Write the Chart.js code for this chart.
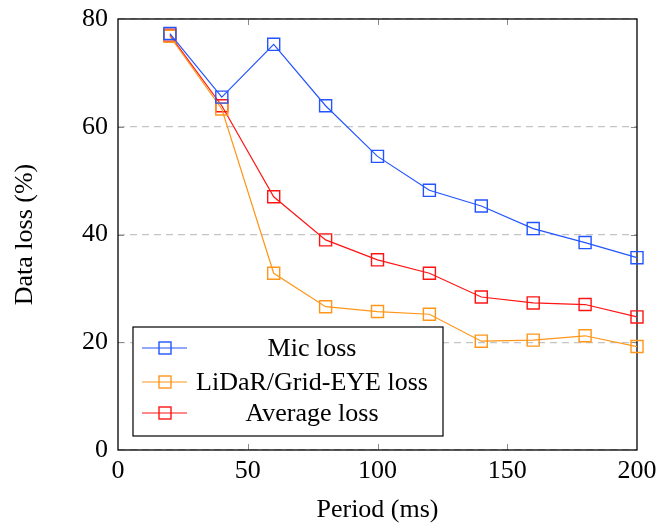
<!DOCTYPE html>
<html>
<head>
<meta charset="utf-8">
<script src="https://cdn.jsdelivr.net/npm/chart.js@4/dist/chart.umd.min.js"></script>
<style>
  html, body { margin: 0; padding: 0; background: #fff; }
  #wrap { width: 656px; height: 523px; }
</style>
</head>
<body>
<div id="wrap"><canvas id="c" width="656" height="523"></canvas></div>
<script>
const periods = [20, 40, 60, 80, 100, 120, 140, 160, 180, 200];
const micLoss = [77.3, 65.5, 75.3, 63.9, 54.5, 48.2, 45.3, 41.1, 38.5, 35.7];
const lidarLoss = [76.8, 63.3, 32.8, 26.6, 25.7, 25.2, 20.2, 20.4, 21.2, 19.2];
const avgLoss = [77.0, 63.9, 47.0, 39.0, 35.3, 32.8, 28.4, 27.3, 27.0, 24.7];
const seriesLabels = ['Mic loss', 'LiDaR/Grid-EYE loss', 'Average loss'];
const xTicks = [0, 50, 100, 150, 200];
const yTicks = [0, 20, 40, 60, 80];

const FONT = '"Liberation Serif", "Times New Roman", serif';
const colors = ['rgb(35,85,255)', 'rgb(255,150,25)', 'rgb(255,20,20)'];

function pts(vals) { return periods.map((p, i) => ({ x: p, y: vals[i] })); }
function ds(label, vals, color) {
  return {
    label, data: pts(vals), borderColor: color, backgroundColor: 'rgba(0,0,0,0)',
    borderWidth: 1.2, pointStyle: 'rect', pointRadius: 8.5, pointHoverRadius: 8.5,
    pointBorderWidth: 1.4, pointBackgroundColor: 'rgba(0,0,0,0)', pointBorderColor: color,
    tension: 0, clip: false
  };
}
function zeroPad(s) { s.paddingTop = 0; s.paddingBottom = 0; s.paddingLeft = 0; s.paddingRight = 0; }

const framePlugin = {
  id: 'frame',
  beforeDatasetsDraw(chart) {
    const { ctx, chartArea: a, scales: { x, y } } = chart;
    ctx.save();
    ctx.strokeStyle = '#8a8a8a';
    ctx.lineWidth = 1;
    const tl = 6;
    xTicks.forEach(v => {
      if (v === xTicks[0] || v === xTicks[xTicks.length - 1]) return;
      const px = Math.round(x.getPixelForValue(v)) + 0.5;
      ctx.beginPath();
      ctx.moveTo(px, a.bottom); ctx.lineTo(px, a.bottom - tl);
      ctx.moveTo(px, a.top); ctx.lineTo(px, a.top + tl);
      ctx.stroke();
    });
    yTicks.forEach(v => {
      if (v === yTicks[0] || v === yTicks[yTicks.length - 1]) return;
      const py = Math.round(y.getPixelForValue(v)) + 0.5;
      ctx.beginPath();
      ctx.moveTo(a.left, py); ctx.lineTo(a.left + tl, py);
      ctx.moveTo(a.right, py); ctx.lineTo(a.right - tl, py);
      ctx.stroke();
    });
    ctx.strokeStyle = '#000';
    ctx.lineWidth = 1.3;
    ctx.strokeRect(a.left, a.top, a.right - a.left, a.bottom - a.top);
    ctx.restore();
  }
};

const legendPlugin = {
  id: 'boxLegend',
  afterDatasetsDraw(chart) {
    const { ctx, chartArea: a } = chart;
    const bx = a.left + 15, by = a.bottom - 123, bw = 310, bh = 109;
    ctx.save();
    ctx.fillStyle = '#fff';
    ctx.fillRect(bx, by, bw, bh);
    ctx.strokeStyle = '#000';
    ctx.lineWidth = 1.2;
    ctx.strokeRect(bx, by, bw, bh);
    const rows = [21, 55, 86];
    ctx.font = '26px ' + FONT;
    ctx.textAlign = 'center';
    ctx.textBaseline = 'middle';
    chart.data.datasets.forEach((d, i) => {
      const cy = by + rows[i];
      ctx.strokeStyle = d.borderColor;
      ctx.lineWidth = 1.2;
      ctx.beginPath();
      ctx.moveTo(bx + 9, cy); ctx.lineTo(bx + 54, cy);
      ctx.stroke();
      ctx.lineWidth = 1.4;
      ctx.strokeRect(bx + 32 - 6, cy - 6, 12, 12);
      ctx.fillStyle = '#000';
      ctx.fillText(d.label, bx + 179, cy + 1);
    });
    ctx.restore();
  }
};

new Chart(document.getElementById('c'), {
  type: 'line',
  data: {
    datasets: [
      ds(seriesLabels[0], micLoss, colors[0]),
      ds(seriesLabels[1], lidarLoss, colors[1]),
      ds(seriesLabels[2], avgLoss, colors[2])
    ]
  },
  options: {
    responsive: false,
    animation: false,
    layout: { padding: { left: 0, top: 19, right: 19, bottom: 0 } },
    plugins: { legend: { display: false }, tooltip: { enabled: false } },
    scales: {
      x: {
        type: 'linear', min: 0, max: 200,
        afterFit(s) { s.height = 73; zeroPad(s); },
        afterBuildTicks(s) { s.ticks = xTicks.map(v => ({ value: v })); },
        ticks: { font: { family: FONT, size: 26 }, color: '#000', padding: 5.5, maxRotation: 0 },
        grid: { display: false, drawTicks: false },
        border: { display: false },
        title: { display: true, text: 'Period (ms)', font: { family: FONT, size: 26, lineHeight: 0.96 }, color: '#000', padding: { bottom: 0, top: 0 } }
      },
      y: {
        type: 'linear', min: 0, max: 80,
        afterFit(s) { s.width = 118; zeroPad(s); },
        afterBuildTicks(s) { s.ticks = yTicks.map(v => ({ value: v })); },
        ticks: { font: { family: FONT, size: 26 }, color: '#000', padding: 10 },
        grid: { display: true, drawTicks: false, color: '#c4c4c4', lineWidth: 1.2 },
        border: { display: false, dash: [7, 5] },
        title: { display: true, text: 'Data loss (%)', font: { family: FONT, size: 26 }, color: '#000', padding: { top: 10, bottom: 0 } }
      }
    }
  },
  plugins: [framePlugin, legendPlugin]
});
</script>
</body>
</html>
